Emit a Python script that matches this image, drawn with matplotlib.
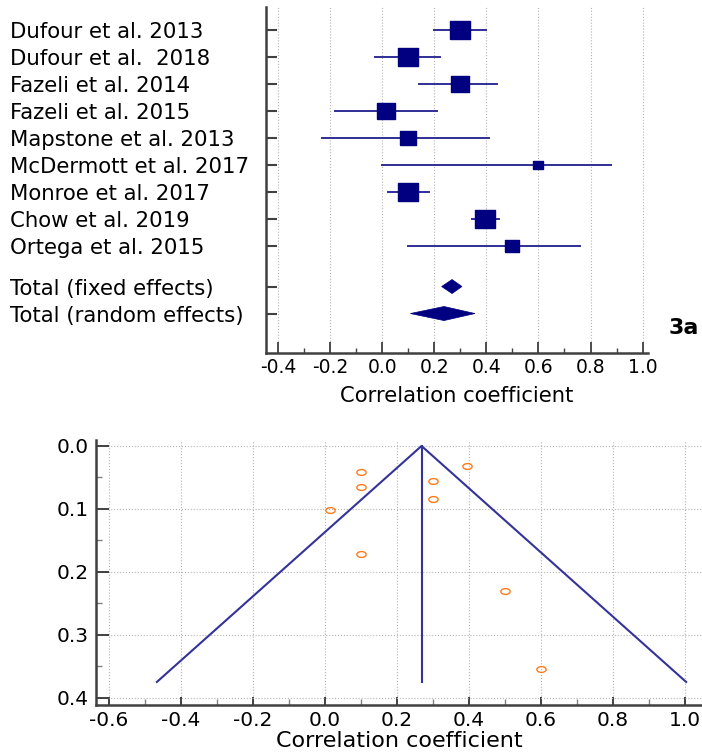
import numpy as np
import matplotlib
matplotlib.use("Agg")
import matplotlib.pyplot as plt
from matplotlib.patches import Polygon
from matplotlib.ticker import MultipleLocator

plt.rcParams['font.family'] = ['DejaVu Sans']
plt.rcParams['axes.unicode_minus'] = False

# studies (forest plot 3a)
studies = ["Dufour et al. 2013", "Dufour et al.  2018", "Fazeli et al. 2014",
           "Fazeli et al. 2015", "Mapstone et al. 2013", "McDermott et al. 2017",
           "Monroe et al. 2017", "Chow et al. 2019", "Ortega et al. 2015"]
r_est = [0.30, 0.10, 0.30, 0.015, 0.10, 0.60, 0.10, 0.395, 0.50]
ci_lo = [0.20, -0.03, 0.14, -0.18, -0.23, 0.00, 0.02, 0.345, 0.10]
ci_hi = [0.40, 0.22, 0.44, 0.21, 0.41, 0.88, 0.18, 0.45, 0.76]
weights = [14.9, 14.9, 11.3, 11.3, 8.6, 2.9, 14.9, 14.9, 6.3]

total_labels = ["Total (fixed effects)", "Total (random effects)"]
total_est = [0.268, 0.237]
total_lo = [0.228, 0.108]
total_hi = [0.306, 0.356]

# funnel plot: standard errors of the same studies
se = [0.055, 0.065, 0.085, 0.102, 0.172, 0.354, 0.041, 0.032, 0.230]
pooled = 0.268
funnel_se = 0.375

navy = '#000080'
line_c = '#2e2e96'
spine_c = '#404040'

fig = plt.figure(figsize=(7.02, 7.52), dpi=100)

# ---- forest plot ----
ax1 = fig.add_axes([0.3789, 0.531, 0.5446, 0.4593])
rows = list(range(len(studies)))
trows = [len(studies) + 0.5, len(studies) + 1.5]

for y, est, lo, hi, w in zip(rows, r_est, ci_lo, ci_hi, weights):
    ax1.plot([lo, hi], [y, y], color=line_c, lw=1.4, zorder=2)
    ms = 5.44 * np.sqrt(w) * 0.72
    ax1.plot(est, y, marker=[(-1.2, -1), (1.2, -1), (1.2, 1), (-1.2, 1), (-1.2, -1)],
             ms=ms, color=navy, mec=navy, zorder=3)

for y, est, lo, hi in zip(trows, total_est, total_lo, total_hi):
    h = 0.26
    ax1.add_patch(Polygon([(lo, y), (est, y - h), (hi, y), (est, y + h)],
                          closed=True, fc=navy, ec=navy, lw=0.5, zorder=3))

ax1.set_xlim(-0.447, 1.022)
ax1.set_ylim(11.95, -0.84)
ax1.set_yticks(rows + trows, labels=studies + total_labels)
for lab in ax1.get_yticklabels():
    lab.set_ha('left')
ax1.tick_params(axis='y', direction='in', length=8, width=1.5, color=spine_c,
                pad=184, labelsize=15.3)
ax1.xaxis.set_minor_locator(MultipleLocator(0.1))
ax1.set_xticks(np.arange(-0.4, 1.01, 0.2))
ax1.set_xticklabels([f"{v:.1f}" for v in np.arange(-0.4, 1.01, 0.2)])
ax1.tick_params(axis='x', which='major', direction='in', length=8, width=1.3,
                color=spine_c, labelsize=13.5, pad=4)
ax1.tick_params(axis='x', which='minor', direction='in', length=3.5, width=1,
                color=spine_c)
ax1.grid(axis='x', which='major', ls=':', color='#b4b4b4', lw=0.8)
ax1.set_axisbelow(True)
for s in ['top', 'right']:
    ax1.spines[s].set_visible(False)
for s in ['left', 'bottom']:
    ax1.spines[s].set_color(spine_c)
    ax1.spines[s].set_linewidth(1.8)
ax1.set_xlabel("Correlation coefficient", fontsize=15.2, labelpad=6)

fig.text(684 / 702, 1 - 328 / 752, "3a", fontweight='bold', fontsize=16,
         ha='center', va='center')

# ---- funnel plot ----
ax2 = fig.add_axes([0.1368, 0.0625, 0.8632, 0.3524])
ax2.plot([pooled - 1.96 * funnel_se, pooled, pooled + 1.96 * funnel_se],
         [funnel_se, 0, funnel_se], color='#333399', lw=1.5)
ax2.plot([pooled, pooled], [0, funnel_se], color='#333399', lw=1.5)
t = np.linspace(0, 2 * np.pi, 40)
ellipse = list(zip(1.6 * np.cos(t), np.sin(t)))
ax2.plot(r_est, se, ls='none', marker=ellipse, ms=6.7, mfc='none',
         mec='#ff7a1a', mew=1.0)

ax2.set_xlim(-0.636, 1.047)
ax2.set_ylim(0.4116, -0.0095)
ax2.set_xticks(np.arange(-0.6, 1.01, 0.2))
ax2.set_xticklabels([f"{v:.1f}" for v in np.arange(-0.6, 1.01, 0.2)])
ax2.xaxis.set_minor_locator(MultipleLocator(0.1))
ax2.set_yticks(np.arange(0, 0.41, 0.1))
ax2.set_yticklabels([f"{v:.1f}" for v in np.arange(0, 0.41, 0.1)])
ax2.yaxis.set_minor_locator(MultipleLocator(0.05))
ax2.tick_params(which='major', direction='in', length=9, width=1.4,
                color=spine_c, labelsize=14.5)
ax2.tick_params(axis='y', which='major', pad=5)
ax2.tick_params(axis='x', which='major', length=6, pad=4)
ax2.tick_params(which='minor', direction='in', length=4, width=1, color='#808080')
ax2.grid(which='major', ls=':', color='#b4b4b4', lw=0.8)
ax2.set_axisbelow(True)
for s in ['top', 'right']:
    ax2.spines[s].set_visible(False)
for s in ['left', 'bottom']:
    ax2.spines[s].set_color(spine_c)
    ax2.spines[s].set_linewidth(1.8)
ax2.set_xlabel("Correlation coefficient", fontsize=16, labelpad=1)

fig.savefig("out.png", dpi=100)
